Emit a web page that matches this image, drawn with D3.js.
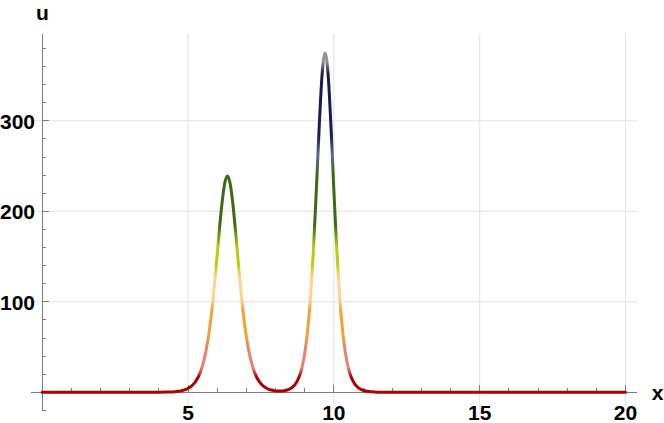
<!DOCTYPE html>
<html>
<head>
<meta charset="utf-8">
<script src="https://cdn.jsdelivr.net/npm/d3@7"></script>
<style>
  body { margin: 0; background: #fff; }
</style>
</head>
<body>
<div class="soliton-chart"></div>
<script>
// x positions of the samples
var xs = [0, 1, 2, 3, 3.5, 4, 4.3,
    4.55, 4.65, 4.75, 4.85, 4.95, 5.05, 5.15, 5.25, 5.35, 5.45, 5.55, 5.65, 5.75, 5.85, 5.95,
    6.05, 6.15, 6.25, 6.35, 6.45, 6.55, 6.65, 6.75, 6.85, 6.95, 7.05, 7.15, 7.25, 7.35, 7.45,
    7.55, 7.65, 7.75, 7.85, 7.95, 8.05,
    8.1, 8.2, 8.3, 8.4, 8.5, 8.6, 8.7, 8.8, 8.9, 9.0, 9.1, 9.2, 9.3, 9.4, 9.5, 9.6, 9.7,
    9.8, 9.9, 10.0, 10.1, 10.2, 10.3, 10.4, 10.5, 10.6, 10.7, 10.8, 10.9, 11.0, 11.1, 11.2,
    11.3, 11.4, 11.5, 12, 13, 14, 15, 16, 17, 18, 19, 20];

// u values at those x
var us = [0, 0, 0, 0, 0.01, 0.08, 0.26,
    0.71, 1.06, 1.58, 2.36, 3.51, 5.21, 7.74, 11.5, 16.9, 24.8, 36.0, 51.7, 72.9, 100.4, 133.6,
    170.1, 204.5, 229.7, 239, 229.7, 204.5, 170.1, 133.6, 100.4, 72.9, 51.7, 36.0, 24.8, 16.9, 11.5,
    7.74, 5.26, 3.60, 2.50, 1.82, 1.45,
    1.37, 1.41, 1.76, 2.51, 3.88, 6.20, 10.05, 16.3, 26.5, 42.7, 67.8, 105.2, 157.5, 223.7, 294.9, 352.5, 375,
    352.5, 294.9, 223.7, 157.5, 105.2, 67.8, 42.7, 26.5, 16.3, 9.97, 6.08, 3.70, 2.25, 1.37, 0.83,
    0.50, 0.31, 0.19, 0.01, 0, 0, 0, 0, 0, 0, 0, 0];

// tick values
var xMajorTicks = [5, 10, 15, 20],
    xMinorTicks = [1, 2, 3, 4, 6, 7, 8, 9, 11, 12, 13, 14, 16, 17, 18, 19],
    yMajorTicks = [100, 200, 300],
    yMinorTicks = [-20, 20, 40, 60, 80, 120, 140, 160, 180, 220, 240, 260, 280, 320, 340, 360, 380];

// colour of the curve by height u
var colorStops = [0, 17, 27, 50, 62, 90, 103, 127, 141, 160, 185, 242, 262, 285, 352, 366],
    colorValues = ["#b00000", "#b00000", "#e8806e", "#e88470", "#f0a030", "#f2a232", "#ffd38c", "#ffd38c",
                   "#b8cc10", "#b8cc10", "#3a6a12", "#3a6a12", "#5a6a92", "#1c1a50", "#1c1a50", "#9a9098"];

var viewbox_width = 664,
    viewbox_height = 423;

// plot range, incl. the padding Mathematica puts round it
var xRange = [-0.4, 20.4],
    yRange = [-20, 396];

var xScale = d3.scaleLinear().domain([0, 20]).range([42.2, 625.5]),
    yScale = d3.scaleLinear().domain([0, 300]).range([392.3, 120.8]);

var svg = d3.select(".soliton-chart")
  .append("svg")
    .attr("class", "chart")
    .attr("width", viewbox_width)
    .attr("height", viewbox_height)
    .attr("viewBox", "0 0 " + viewbox_width + " " + viewbox_height);

// all labels share one bold font
function labelStyle(sel) {
    sel.attr("font-family", "'Liberation Sans', Arial, sans-serif")
       .attr("font-weight", "bold")
       .attr("font-size", 21)
       .attr("fill", "#000");
}

// grid lines
var grid = svg.append("g").attr("class", "grid")
    .attr("stroke", "#e2e2e2")
    .attr("stroke-width", 1);

grid.selectAll("line.gx")
    .data(xMajorTicks)
  .enter().append("line")
    .attr("x1", function(d) { return xScale(d); })
    .attr("x2", function(d) { return xScale(d); })
    .attr("y1", yScale(yRange[0]))
    .attr("y2", yScale(yRange[1]));

grid.selectAll("line.gy")
    .data(yMajorTicks)
  .enter().append("line")
    .attr("x1", xScale(xRange[0]))
    .attr("x2", xScale(xRange[1]))
    .attr("y1", function(d) { return yScale(d); })
    .attr("y2", function(d) { return yScale(d); });

// axes
var axisColor = "#7d7d7d";
var axes = svg.append("g").attr("class", "axes")
    .attr("stroke", axisColor)
    .attr("stroke-width", 1)
    .attr("shape-rendering", "crispEdges");

axes.append("line")
    .attr("x1", xScale(xRange[0])).attr("x2", xScale(xRange[1]))
    .attr("y1", yScale(0)).attr("y2", yScale(0));

axes.append("line")
    .attr("x1", xScale(0)).attr("x2", xScale(0))
    .attr("y1", yScale(yRange[0])).attr("y2", yScale(yRange[1]));

// x ticks point up, y ticks point right
axes.selectAll("line.xminor")
    .data(xMinorTicks)
  .enter().append("line")
    .attr("x1", function(d) { return xScale(d); })
    .attr("x2", function(d) { return xScale(d); })
    .attr("y1", yScale(0))
    .attr("y2", yScale(0) - 4);

axes.selectAll("line.xmajor")
    .data(xMajorTicks)
  .enter().append("line")
    .attr("x1", function(d) { return xScale(d); })
    .attr("x2", function(d) { return xScale(d); })
    .attr("y1", yScale(0))
    .attr("y2", yScale(0) - 7);

axes.selectAll("line.yminor")
    .data(yMinorTicks)
  .enter().append("line")
    .attr("x1", xScale(0))
    .attr("x2", xScale(0) + 4)
    .attr("y1", function(d) { return yScale(d); })
    .attr("y2", function(d) { return yScale(d); });

axes.selectAll("line.ymajor")
    .data(yMajorTicks)
  .enter().append("line")
    .attr("x1", xScale(0))
    .attr("x2", xScale(0) + 7)
    .attr("y1", function(d) { return yScale(d); })
    .attr("y2", function(d) { return yScale(d); });

// tick labels
svg.append("g").selectAll("text")
    .data(xMajorTicks)
  .enter().append("text")
    .call(labelStyle)
    .attr("x", function(d) { return xScale(d); })
    .attr("y", 419.5)
    .attr("text-anchor", "middle")
    .text(function(d) { return d; });

svg.append("g").selectAll("text")
    .data(yMajorTicks)
  .enter().append("text")
    .call(labelStyle)
    .attr("x", 35)
    .attr("y", function(d) { return yScale(d) + 7.8; })
    .attr("text-anchor", "end")
    .text(function(d) { return d; });

// axis labels
svg.append("text")
    .call(labelStyle)
    .attr("x", 42.5)
    .attr("y", 19.5)
    .attr("text-anchor", "middle")
    .text("u");

svg.append("text")
    .call(labelStyle)
    .attr("x", 657.5)
    .attr("y", 400)
    .attr("text-anchor", "middle")
    .text("x");

// vertical gradient so the stroke colour follows the height u
var grad = svg.append("defs").append("linearGradient")
    .attr("id", "ugrad")
    .attr("gradientUnits", "userSpaceOnUse")
    .attr("x1", 0).attr("x2", 0)
    .attr("y1", yScale(0))
    .attr("y2", yScale(400));

grad.selectAll("stop")
    .data(colorStops)
  .enter().append("stop")
    .attr("offset", function(d) { return d / 400; })
    .attr("stop-color", function(d, i) { return colorValues[i]; });

var line = d3.line()
    .x(function(d) { return xScale(d); })
    .y(function(d, i) { return yScale(us[i]); })
    .curve(d3.curveMonotoneX);

svg.append("path")
    .datum(xs)
    .attr("d", line)
    .attr("fill", "none")
    .attr("stroke", "url(#ugrad)")
    .attr("stroke-width", 3)
    .attr("stroke-linejoin", "round")
    .attr("stroke-linecap", "round");
</script>
</body>
</html>
